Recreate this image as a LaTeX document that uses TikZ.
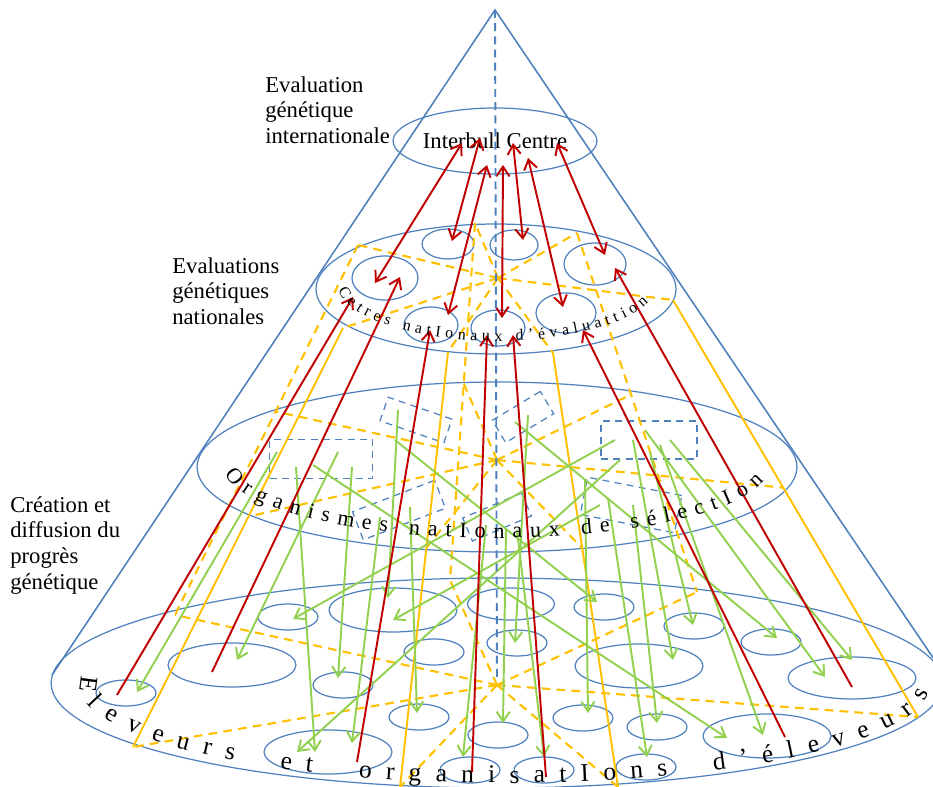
\documentclass[tikz,border=0pt]{standalone}
\usepackage{fontspec}
\setmainfont{Liberation Serif}
\usetikzlibrary{arrows.meta, shapes.geometric, calc, decorations.text}
\definecolor{coneblue}{HTML}{4F81BD}
\definecolor{linkred}{HTML}{C00000}
\definecolor{flowgreen}{HTML}{92D050}
\definecolor{webgold}{HTML}{FFC000}

\begin{document}
\begin{tikzpicture}[
    x=0.02cm, y=-0.02cm,
    >={Straight Barb[length=5.5pt, width=7.5pt]},
    coneline/.style={draw=coneblue, line width=0.9pt},
    ring/.style={ellipse, draw=coneblue, line width=0.7pt, inner sep=0pt},
    office/.style={rectangle, draw=coneblue, line width=0.7pt, dash pattern=on 4pt off 3pt, inner sep=0pt},
    webdash/.style={draw=webgold, line width=1.2pt, dash pattern=on 5pt off 3.5pt},
    webline/.style={draw=webgold, line width=1.1pt},
    redlink/.style={draw=linkred, line width=1.1pt},
    greenflow/.style={->, draw=flowgreen, line width=1.1pt},
    lvlab/.style={anchor=north west, inner sep=0pt, align=left, font=\fontsize{12.9}{14.6}\selectfont}
  ]
  \useasboundingbox (0,0) rectangle (933,787);
  \clip (0,0) rectangle (933,787);
  % Levels of the cone
  \node[ring, minimum width=3.4cm, minimum height=1.32cm, font=\fontsize{12.9}{15}\selectfont] (intl) at (495,141) {Interbull Centre};
  \node[ring, minimum width=7.2cm, minimum height=2.6cm] (natl) at (496,289) {};
  \node[ring, minimum width=12cm, minimum height=3.4cm] (orgs) at (497,467) {};
  \node[ring, minimum width=17.84cm, minimum height=4.2cm] (farms) at (497,683) {};
  % National evaluation centres
  \foreach \x/\y/\w/\h [count=\i] in {448/244/1.04cm/0.6cm, 514/245/0.96cm/0.6cm, 595/264/1.24cm/0.84cm,
      385/278/1.32cm/0.88cm, 431/325/1.08cm/0.72cm, 498/328/1.08cm/0.72cm, 566/313/1.2cm/0.8cm}
    \node[ring, minimum width=\w, minimum height=\h] (nc\i) at (\x,\y) {};
  % Breeding organisations
  \node[office, minimum width=2.06cm, minimum height=0.78cm] (os1) at (321,459) {};
  \node[office, minimum width=1.35cm, minimum height=0.5cm, rotate=-19] (os2) at (416,420) {};
  \node[office, minimum width=1.12cm, minimum height=0.52cm, rotate=31] (os3) at (523,417) {};
  \node[office, minimum width=1.92cm, minimum height=0.76cm] (os4) at (649,440) {};
  \node[office, minimum width=1.92cm, minimum height=0.76cm, rotate=-11] (os5) at (631,505) {};
  \node[office, minimum width=1.76cm, minimum height=0.6cm, rotate=21] (os6) at (399,510) {};
  \node[office, minimum width=1.28cm, minimum height=0.5cm, rotate=23] (os7) at (497,517) {};
  % Breeders
  \foreach \x/\y/\w/\h [count=\i] in {288/617/1.2cm/0.52cm, 393/610/2.56cm/0.88cm, 232/665/2.56cm/0.88cm,
      434/652/1.2cm/0.52cm, 343/685/1.2cm/0.52cm, 126/693/1.2cm/0.52cm, 419/717/1.2cm/0.52cm,
      328/752/2.56cm/0.88cm, 470/770/1.2cm/0.52cm, 511/604/1.74cm/0.64cm, 517/643/1.2cm/0.52cm,
      604/607/1.2cm/0.52cm, 498/735/1.2cm/0.52cm, 544/770/1.2cm/0.52cm, 583/718/1.2cm/0.52cm,
      657/727/1.2cm/0.52cm, 639/666/2.56cm/0.88cm, 694/626/1.2cm/0.52cm, 771/642/1.2cm/0.52cm,
      852/678/2.56cm/0.84cm, 767/736/2.56cm/0.88cm, 646/767/1.2cm/0.52cm}
    \node[ring, minimum width=\w, minimum height=\h] (bf\i) at (\x,\y) {};
  % Orange web between the levels
  \coordinate (c2) at (498,278);
  \coordinate (c3) at (497,460);
  \coordinate (c4) at (497,685);
  \foreach \n/\ux/\uy/\lx/\ly in {a/358/245/175/615, b/475/223/450/580, c/577/233/697/592,
      d/673/300/918/717, e/343/328/133/747, f/448/352/400/787, g/553/353/618/787} {
    \coordinate (u\n) at (\ux,\uy);
    \coordinate (l\n) at (\lx,\ly);
    \coordinate (m\n) at ($(u\n)!0.45!(l\n)$);
    \draw[webdash] (c2) -- (u\n);
    \draw[webdash] (c3) -- (m\n);
    \draw[webdash] (c4) -- (l\n);
  }
  \draw[webdash] (ua) -- (la);
  \draw[webdash] (ub) -- (lb);
  \draw[webdash] (uc) -- (lc);
  \draw[webline] (ud) -- (ld);
  \draw[webline] (ue) -- (le);
  \draw[webline] (uf) -- (lf);
  \draw[webline] (ug) -- (lg);
  % Green diffusion arrows
  \foreach \ax/\ay/\bx/\by [count=\i] in {277/452/137/692, 338/452/237/660, 615/440/293/619, 600/505/393/620,
      398/410/388/598, 352/467/338/678, 620/460/297/752, 296/467/315/752, 380/517/352/743,
      410/507/417/713, 486/525/463/757, 528/415/515/643, 506/530/503/723, 517/530/544/757,
      395/440/597/602, 585/480/588/713, 633/440/673/660, 650/452/693/625, 633/505/657/723,
      608/498/647/757, 313/465/727/738, 660/445/763/735, 515/422/777/638, 670/440/852/660,
      645/430/825/677} {
    \coordinate (gs\i) at (\ax,\ay);
    \coordinate (ge\i) at (\bx,\by);
    \draw[greenflow] (gs\i) -- (ge\i);
  }
  % Red exchanges with Interbull
  \foreach \ax/\ay/\bx/\by [count=\i] in {462/143/375/283, 480/138/452/241, 487/165/448/315,
      503/165/502/318, 513/143/523/240, 528/158/563/307, 557/143/605/255} {
    \coordinate (ri\i) at (\ax,\ay);
    \coordinate (rn\i) at (\bx,\by);
    \draw[redlink, <->] (ri\i) -- (rn\i);
  }
  % Red data from breeders to national centres
  \foreach \ax/\ay/\bx/\by [count=\i] in {117/695/353/297, 212/672/400/277, 357/762/430/330,
      472/772/487/335, 546/777/513/335, 785/737/583/330, 852/687/615/268} {
    \coordinate (rb\i) at (\ax,\ay);
    \coordinate (rt\i) at (\bx,\by);
    \draw[redlink, ->] (rb\i) -- (rt\i);
  }
  % Cone and axis
  \coordinate (apex) at (495,10);
  \coordinate (cl) at (52,675);
  \coordinate (cr) at (940,668);
  \coordinate (axis) at (497,680);
  \draw[coneline] (cl) -- (apex) -- (cr);
  \draw[coneline, line width=1.1pt, dash pattern=on 4.5pt off 3pt] (apex) -- (axis);
  % Texts along the levels
  \path[decorate, decoration={text along path, text align={fit to path},
      text={|\fontsize{9}{9}\selectfont|Cetres natIonaux d’évaluattion}}]
    ($(497,283)+(173:160 and 58)$) arc[start angle=173, end angle=19, x radius=160, y radius=58];
  \path[decorate, decoration={text along path, text align={fit to path},
      text={|\fontsize{12.5}{12.5}\selectfont|Organismes natIonaux de sélectIon}}]
    ($(497,466)+(174:273 and 72)$) arc[start angle=174, end angle=12, x radius=273, y radius=72];
  \path[decorate, decoration={text along path, text align={fit to path},
      text={|\fontsize{14.5}{14.5}\selectfont|Eleveurs{\hspace{0.7em}}et{\hspace{0.7em}}organisatIons{\hspace{0.7em}}d’éleveurs}}]
    ($(505,686)+(186:425 and 97)$) arc[start angle=186, end angle=4, x radius=425, y radius=97];
  % Level labels
  \node[lvlab] (intl-lab) at (265,76) {Evaluation\\génétique\\internationale};
  \node[lvlab] (natl-lab) at (172,257) {Evaluations\\génétiques\\nationales};
  \node[lvlab] (farm-lab) at (10,496) {Création et\\diffusion du\\progrès\\génétique};
\end{tikzpicture}
\end{document}
